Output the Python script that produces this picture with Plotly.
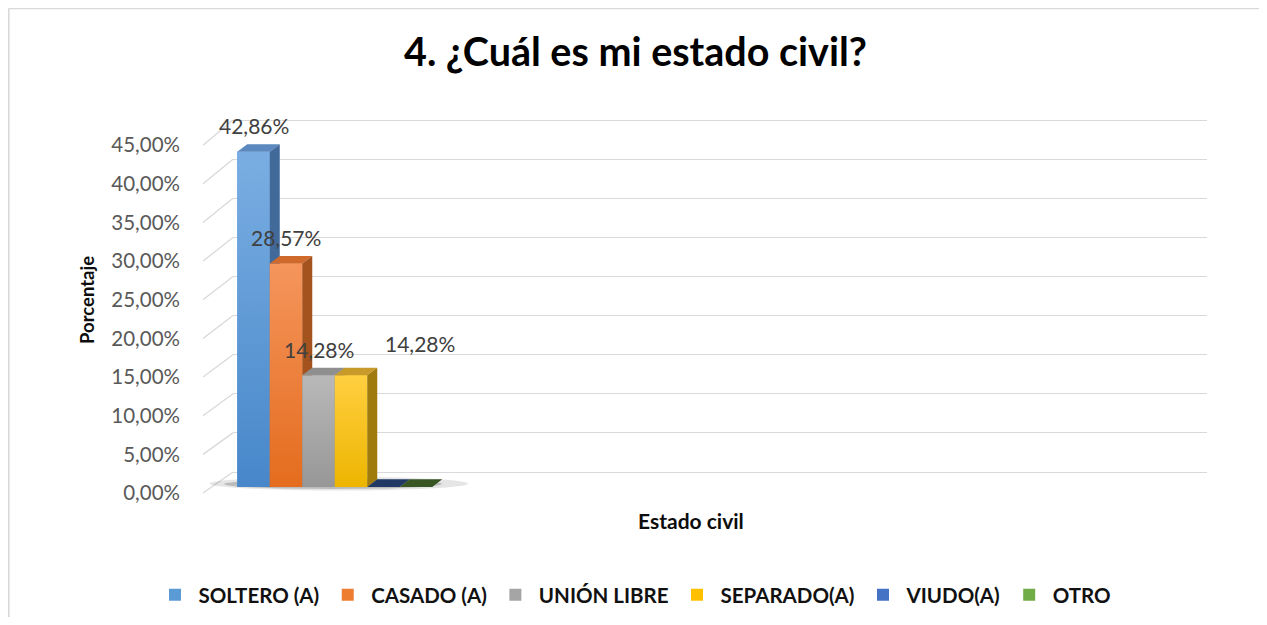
import plotly.graph_objects as go

# datos del grafico
categorias = ["SOLTERO (A)", "CASADO (A)", "UNIÓN LIBRE", "SEPARADO(A)", "VIUDO(A)", "OTRO"]
porcentajes = [42.86, 28.57, 14.28, 14.28, 0.0, 0.0]
ticks_y = [0, 5, 10, 15, 20, 25, 30, 35, 40, 45]

# colores tipo Office (frente medio, frente claro arriba, frente oscuro abajo, techo, lado)
colores = ["#5B9BD5", "#ED7D31", "#A5A5A5", "#FFC000", "#4472C4", "#70AD47"]
colores_claros = ["#7AAEE2", "#F5955C", "#B9B9B9", "#FFCF40", "#5A86D0", "#86BE60"]
colores_oscuros = ["#4787CA", "#E46C1E", "#979797", "#EDB500", "#3660AE", "#5E9A38"]
colores_techo = ["#5A88BF", "#CF6A2C", "#8F8F8F", "#C89A2A", "#1F3864", "#375623"]
colores_lado = ["#41699A", "#A4531E", "#7A7A7A", "#9E7B0C", "#1A2F55", "#2E4A1D"]

# la pagina deja 8 px de margen en el body
PAGE_W, PAGE_H, OFF = 1267, 625, 8
W, H = PAGE_W - 2 * OFF, PAGE_H - 2 * OFF


def px_x(p):
    return (p - OFF) / W


def px_y(p):
    return 1 - (p - OFF) / H


# geometria en pixeles de pagina (perspectiva aproximada del grafico 3D de Excel)
TOP_PX, BOTTOM_PX = 100, 520
FRONT_BASE, FRONT_SCALE = 493, 7.73   # plano de las etiquetas del eje
BAR_BASE, BAR_SCALE = 487, 7.82       # plano frontal de las barras
BACK_BASE, BACK_SCALE = 472, 7.82     # pared del fondo (lineas de cuadricula)
BAR0_PX, BAR_W_PX = 253.5, 32.5
DEPTH_X_PX, DEPTH_Y_PX = 10.0, 7.7


def axis_range(base, scale):
    return [(base - BOTTOM_PX) / scale, (base - TOP_PX) / scale]


def fmt_pct(v):
    return f"{v:.2f}".replace(".", ",") + "%"


dom_y = [px_y(BOTTOM_PX), px_y(TOP_PX)]
dx = DEPTH_X_PX / BAR_W_PX
dy = DEPTH_Y_PX / BAR_SCALE

fig = go.Figure()

# subplot de fondo solo para la cuadricula
fig.add_trace(go.Scatter(x=[None], y=[None], xaxis="x", yaxis="y",
                         showlegend=False, hoverinfo="skip"))

# barras (para leyenda y hover); las caras se dibujan encima
for i, (cat, val) in enumerate(zip(categorias, porcentajes)):
    fig.add_trace(go.Bar(
        x=[i], y=[val], width=1, name=cat,
        marker=dict(color=colores[i], line=dict(width=0)),
        xaxis="x2", yaxis="y2",
        hovertemplate=cat + ": %{y:.2f}%<extra></extra>",
    ))

# eje de etiquetas
fig.add_trace(go.Scatter(x=[None], y=[None], xaxis="x2", yaxis="y3",
                         showlegend=False, hoverinfo="skip"))

# caras 3D
for i, val in enumerate(porcentajes):
    L, R = i - 0.5, i + 0.5
    if val > 0:
        fig.add_trace(go.Scatter(
            x=[L, R, R, L, L], y=[0, 0, val, val, 0],
            fill="toself", mode="lines", line=dict(width=0),
            fillcolor=colores[i],
            fillgradient=dict(type="vertical",
                              colorscale=[[0, colores_oscuros[i]], [1, colores_claros[i]]]),
            xaxis="x2", yaxis="y2", showlegend=False, hoverinfo="skip",
        ))
    fig.add_trace(go.Scatter(
        x=[L, R, R + dx, L + dx, L], y=[val, val, val + dy, val + dy, val],
        fill="toself", mode="lines", line=dict(width=0),
        fillcolor=colores_techo[i],
        xaxis="x2", yaxis="y2", showlegend=False, hoverinfo="skip",
    ))
    fig.add_trace(go.Scatter(
        x=[R, R + dx, R + dx, R, R], y=[0, dy, val + dy, val, 0],
        fill="toself", mode="lines", line=dict(width=0),
        fillcolor=colores_lado[i],
        xaxis="x2", yaxis="y2", showlegend=False, hoverinfo="skip",
    ))

# etiquetas de datos
anotaciones = []
for i, val in enumerate(porcentajes):
    if val <= 0:
        continue
    desplaz_x = 69 if i == 3 else 0
    desplaz_y = 32 if i == 3 else 26
    anotaciones.append(dict(
        x=i, y=val, xref="x2", yref="y2", text=fmt_pct(val), showarrow=False,
        xshift=desplaz_x, yshift=desplaz_y, xanchor="center", yanchor="middle",
        font=dict(family="Lato", size=21, color="#404040"),
    ))

anotaciones.append(dict(
    x=px_x(87), y=px_y(300), xref="paper", yref="paper", text="Porcentaje",
    textangle=-90, showarrow=False, xanchor="center", yanchor="middle",
    font=dict(family="Lato", size=18.5, color="#0d0d0d", weight="bold"),
))
anotaciones.append(dict(
    x=px_x(691), y=px_y(520), xref="paper", yref="paper", text="Estado civil",
    showarrow=False, xanchor="center", yanchor="middle",
    font=dict(family="Lato", size=21, color="#0d0d0d", weight="bold"),
))

# lineas diagonales de la pared lateral, sombra y marco
formas = []
for t in ticks_y:
    formas.append(dict(
        type="line", xref="paper", yref="paper",
        x0=px_x(203), y0=px_y(FRONT_BASE - FRONT_SCALE * t),
        x1=px_x(233), y1=px_y(BACK_BASE - BACK_SCALE * t),
        line=dict(color="#d9d9d9", width=1.3), layer="below",
    ))
n = len(porcentajes)
formas.append(dict(type="circle", xref="x2", yref="y2",
                   x0=-1.35, x1=n + 0.6, y0=-0.45, y1=1.3,
                   fillcolor="rgba(0,0,0,0.10)", line=dict(width=0), layer="between"))
formas.append(dict(type="circle", xref="x2", yref="y2",
                   x0=-0.9, x1=n - 0.2, y0=-0.25, y1=1.0,
                   fillcolor="rgba(0,0,0,0.18)", line=dict(width=0), layer="between"))
formas.append(dict(type="line", xref="paper", yref="paper",
                   x0=px_x(8.6), y0=px_y(8.5), x1=px_x(8.6), y1=0,
                   line=dict(color="#d9d9d9", width=2)))
formas.append(dict(type="line", xref="paper", yref="paper",
                   x0=px_x(8.5), y0=px_y(8.6), x1=1, y1=px_y(8.6),
                   line=dict(color="#d9d9d9", width=1.2)))

fig.update_layout(
    width=W, height=H,
    margin=dict(l=0, r=0, t=0, b=0),
    paper_bgcolor="white",
    plot_bgcolor="rgba(0,0,0,0)",
    separators=",.",
    barmode="overlay",
    title=dict(text="4. ¿Cuál es mi estado civil?", x=px_x(635.5), xanchor="center",
               y=px_y(52), yanchor="middle",
               font=dict(family="Lato", size=39.5, color="#000000", weight="bold")),
    xaxis=dict(domain=[px_x(233), px_x(1207)], range=[0, 1], visible=False),
    yaxis=dict(domain=dom_y, range=axis_range(BACK_BASE, BACK_SCALE),
               tickvals=ticks_y, showgrid=True, gridcolor="#d9d9d9", gridwidth=1.3,
               showticklabels=False, zeroline=False, showline=False, ticks=""),
    xaxis2=dict(domain=[px_x(181), px_x(1207)],
                range=[(181 - BAR0_PX) / BAR_W_PX, (1207 - BAR0_PX) / BAR_W_PX],
                visible=False, anchor="y2"),
    yaxis2=dict(domain=dom_y, range=axis_range(BAR_BASE, BAR_SCALE),
                visible=False, anchor="x2"),
    yaxis3=dict(overlaying="y2", anchor="free", position=px_x(180), side="left",
                range=axis_range(FRONT_BASE, FRONT_SCALE), tickvals=ticks_y,
                ticktext=[fmt_pct(t) for t in ticks_y], showgrid=False, zeroline=False,
                showline=False, ticks="",
                tickfont=dict(family="Lato", size=20.5, color="#595959")),
    showlegend=True,
    legend=dict(orientation="h", x=px_x(634), xanchor="center", y=px_y(595), yanchor="middle",
                itemwidth=37,
                font=dict(family="Lato", size=20.5, color="#111111", weight="bold"),
                traceorder="normal"),
    annotations=anotaciones,
    shapes=formas,
)

fig.write_html("out.html")
